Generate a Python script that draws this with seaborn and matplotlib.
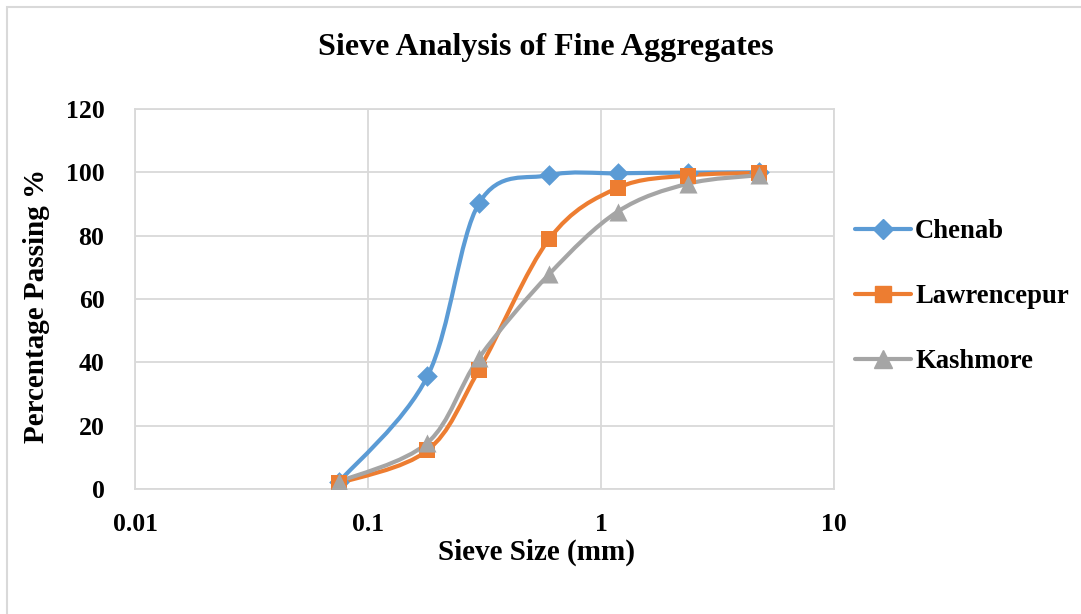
"""Sieve analysis of fine aggregates: grading curves for three sand sources."""

import numpy as np
import pandas as pd
import seaborn as sns
import matplotlib.pyplot as plt
from matplotlib.path import Path
from matplotlib.patches import PathPatch, Rectangle
from matplotlib.lines import Line2D

sieve_mm = [0.075, 0.18, 0.3, 0.6, 1.18, 2.36, 4.75]
chenab = [2.2, 35.6, 90.3, 99.1, 99.7, 99.9, 100.0]
lawrencepur = [1.8, 12.2, 37.7, 79.0, 95.1, 99.0, 99.8]
kashmore = [2.3, 14.6, 41.5, 67.9, 87.6, 96.4, 99.1]

series = ["Chenab", "Lawrencepur", "Kashmore"]
colors = {"Chenab": "#5B9BD5", "Lawrencepur": "#ED7D31", "Kashmore": "#A5A5A5"}
markers = {"Chenab": "D", "Lawrencepur": "s", "Kashmore": "^"}
msize = {"Chenab": 10.5, "Lawrencepur": 11, "Kashmore": 13}

df = pd.DataFrame({
    "sieve": sieve_mm * 3,
    "passing": chenab + lawrencepur + kashmore,
    "source": [s for s in series for _ in sieve_mm],
})


def smooth_path(x, y):
    # Excel-style smoothed line: cubic Bezier through the points (in log-x space)
    lx = np.log10(x)
    pts = np.column_stack([lx, y])
    ext = np.vstack([pts[0], pts, pts[-1]])
    verts = [pts[0]]
    codes = [Path.MOVETO]
    for i in range(len(pts) - 1):
        p0, p1, p2, p3 = ext[i], ext[i + 1], ext[i + 2], ext[i + 3]
        c1 = p1 + (p2 - p0) / 6
        c2 = p2 - (p3 - p1) / 6
        verts += [c1, c2, p2]
        codes += [Path.CURVE4] * 3
    verts = np.array(verts)
    verts[:, 0] = 10 ** verts[:, 0]
    return Path(verts, codes)


sns.set_theme(style="white")
plt.rcParams["font.family"] = ["Liberation Serif", "DejaVu Serif"]
plt.rcParams["font.weight"] = "bold"
plt.rcParams["text.color"] = "black"

fig = plt.figure(figsize=(10.81, 6.14), dpi=100)
ax = fig.add_axes([135 / 1081, 125 / 614, 699 / 1081, 380 / 614])

for name in series:
    sub = df[df["source"] == name]
    ax.add_patch(PathPatch(smooth_path(sub["sieve"].values, sub["passing"].values),
                           facecolor="none", edgecolor=colors[name], lw=3.0,
                           capstyle="round", joinstyle="round", zorder=3))
    sns.scatterplot(data=sub, x="sieve", y="passing", marker=markers[name],
                    color=colors[name], s=msize[name] ** 2, linewidth=0,
                    ax=ax, zorder=4, legend=False)

ax.set_xscale("log")
ax.set_xlim(0.01, 10)
ax.set_ylim(0, 120)
ax.set_yticks(range(0, 121, 20))
ax.set_xticks([0.01, 0.1, 1, 10])
ax.set_xticklabels(["0.01", "0.1", "1", "10"])
ax.minorticks_off()
ax.grid(True, color="#D9D9D9", lw=1.3)
for sp in ax.spines.values():
    sp.set_color("#D9D9D9")
    sp.set_linewidth(1.3)
ax.tick_params(axis="both", length=0, labelsize=18.5, colors="black")
ax.tick_params(axis="x", pad=17)
ax.tick_params(axis="y", pad=22)
for lab in ax.get_xticklabels() + ax.get_yticklabels():
    lab.set_fontweight("bold")

ax.set_xlabel("Sieve Size (mm)", fontsize=21, fontweight="bold", color="black")
ax.set_ylabel("Percentage Passing %", fontsize=21, fontweight="bold", color="black")
ax.xaxis.set_label_coords(0.574, -0.132)
ax.yaxis.set_label_coords(-0.121, 0.483)

fig.text(546 / 1081, 1 - 47 / 614, "Sieve Analysis of Fine Aggregates",
         ha="center", va="center", fontsize=23, fontweight="bold", color="black")

handles = [Line2D([], [], color=colors[n], lw=3.0, marker=markers[n],
                  markersize=msize[n]) for n in series]
fig.legend(handles, series, loc="center left", bbox_to_anchor=(855 / 1081, 0.517),
           frameon=False, handlelength=2.1, handletextpad=0.15,
           labelspacing=1.5, borderpad=0, borderaxespad=0,
           labelcolor="black", prop={"weight": "bold", "size": 19.2})

fig.patches.append(Rectangle((7 / 1081, -0.1), 1.2, (614 - 7) / 614 + 0.1,
                             transform=fig.transFigure, fill=False,
                             edgecolor="#D9D9D9", lw=1.5, zorder=0))

fig.savefig("out.png", dpi=100)
